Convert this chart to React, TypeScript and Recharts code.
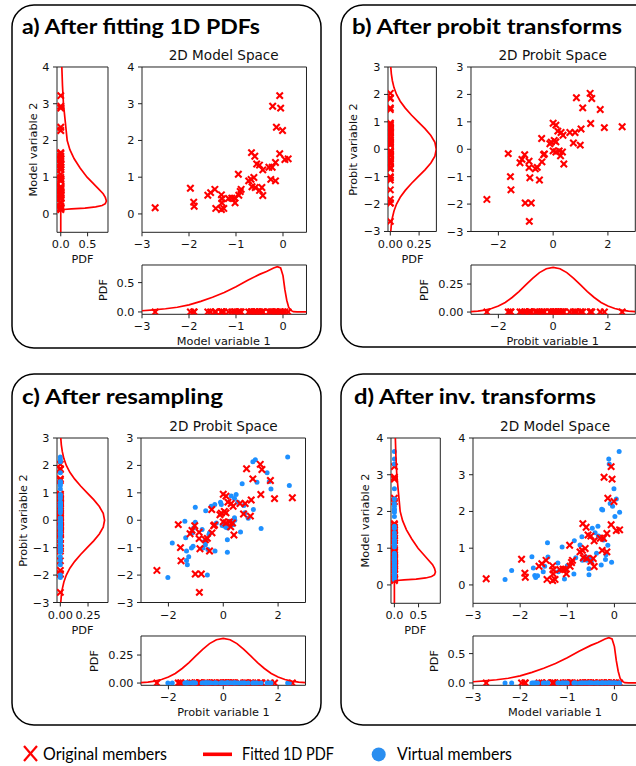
import React from 'react';
import { ScatterChart, Scatter, XAxis, YAxis, ReferenceArea } from 'recharts';

const RED = '#ff0000';
const BLUE = '#1e90ff';
const FONT = '"DejaVu Sans", Verdana, sans-serif';
const TFONT = 'Lato, "Open Sans", sans-serif';

// ---------- Original members, model space (panel a / d) ----------
const origModelV1 = [-2.72, -1.97, -1.9, -1.89, -1.6, -1.54, -1.45, -1.43, -1.31, -1.3, -1.3, -1.31, -1.26, -1.16, -1.09, -1.02, -1.03, -0.94, -0.89, -0.91, -0.95, -0.73, -0.68, -0.62, -0.66, -0.59, -0.67, -0.6, -0.56, -0.5, -0.43, -0.5, -0.45, -0.43, -0.3, -0.23, -0.26, -0.16, -0.16, -0.22, -0.14, -0.07, -0.05, -0.01, -0.07, 0.04, 0.11];
const origModelV2 = [0.17, 0.7, 0.32, 0.21, 0.51, 0.58, 0.67, 0.15, 0.52, 0.41, 0.3, 0.12, 0.15, 0.42, 0.43, 0.3, 0.43, 0.51, 0.67, 0.61, 1.08, 0.9, 0.94, 0.99, 0.74, 0.72, 1.67, 1.57, 1.36, 1.33, 1.2, 0.64, 0.72, 0.5, 1.27, 1.27, 0.94, 0.9, 1.4, 2.93, 2.36, 3.22, 2.88, 2.27, 1.64, 1.48, 1.5];

// ---------- Original members, probit space (panel b / c) ----------
const origProbitV1 = [-2.42, -1.64, -1.56, -1.54, -1.21, -1.14, -1.04, -0.88, -0.88, -0.85, -1.02, -0.8, -0.87, -0.65, -0.58, -0.5, -0.41, -0.35, -0.32, -0.42, -0.12, -0.07, 0.0, 0.1, 0.04, 0.1, 0.0, 0.1, 0.22, 0.34, 0.27, 0.17, 0.29, 0.36, 0.39, 0.61, 0.8, 1.02, 0.74, 0.99, 0.85, 1.08, 1.35, 1.41, 1.37, 1.72, 1.87, 2.52];
const origProbitV2 = [-1.83, -0.16, -1.0, -1.48, -0.49, -0.37, -0.2, -0.44, -0.67, -1.04, -1.96, -1.96, -2.63, -0.71, -0.66, -1.12, -0.46, -0.2, -0.17, 0.39, 0.2, 0.26, 0.95, 0.88, 0.32, 0.27, -0.06, -0.1, -0.06, -0.1, -0.24, 0.66, 0.61, 0.51, -0.54, 0.61, 0.61, 0.74, 0.23, 0.15, 1.88, 1.51, 2.04, 1.85, 0.94, 1.45, 0.79, 0.82];

// ---------- Virtual members, probit space (panel c) ----------
const virtProbitV1 = [-2.02, -1.86, -1.4, -1.37, -1.34, -1.34, -1.31, -1.26, -1.16, -1.1, -1.12, -1.08, -1.02, -1.02, -0.77, -0.74, -0.68, -0.65, -0.62, -0.58, -0.56, -0.52, -0.64, -0.5, -0.44, -0.31, -0.3, -0.25, -0.1, -0.07, -0.04, -0.01, 0.05, 0.11, 0.17, 0.19, 0.15, 0.15, 0.29, 0.41, 0.47, 0.41, 0.42, 0.53, 0.63, 0.69, 0.75, 0.79, 0.91, 1.1, 1.08, 1.17, 1.23, 1.38, 1.6, 1.68, 1.74, 2.35, 2.41, 0.25, 0.35];
const virtProbitV2 = [-2.09, -0.83, -0.04, -0.64, -1.12, -1.47, -1.62, -1.33, -1.01, -0.95, -0.46, -0.28, -0.07, 0.47, -0.34, -1.01, -0.77, -0.89, -0.71, -2.0, -1.07, -0.52, 0.35, -0.46, 0.51, 0.57, -1.12, -0.1, 0.66, 0.57, -0.19, -0.16, -0.22, -0.26, -0.28, -0.22, -0.71, -1.17, 0.88, 0.79, 0.94, 0.09, 0.0, 0.66, -0.43, 1.33, 0.54, 0.27, 0.07, 0.39, 2.13, 2.21, 1.39, -0.3, 1.73, 1.41, 1.14, 2.31, 1.27, -0.04, -0.16];

// ---------- Virtual members, model space (panel d) ----------
const virtModelV1 = [-2.32, -2.18, -1.75, -1.72, -1.69, -1.67, -1.63, -1.51, -1.48, -1.42, -1.41, -1.2, -1.19, -1.11, -1.1, -1.06, -1.03, -1.0, -0.86, -0.85, -0.82, -0.73, -0.69, -0.68, -0.64, -0.61, -0.58, -0.54, -0.54, -0.52, -0.49, -0.47, -0.41, -0.35, -0.38, -0.34, -0.28, -0.27, -0.25, -0.23, -0.18, -0.14, -0.12, -0.11, -0.09, -0.06, -0.01, 0.01, 0.04, 0.1, 0.11, -0.04, -0.19];
const virtModelV2 = [0.15, 0.39, 0.77, 0.46, 0.26, 0.2, 0.25, 0.36, 0.51, 1.15, 0.76, 0.6, 0.36, 1.03, 0.45, 0.16, 0.41, 0.52, 0.3, 1.2, 0.74, 1.09, 1.31, 0.67, 0.69, 0.77, 0.67, 0.44, 0.28, 0.72, 0.63, 1.54, 1.42, 1.6, 0.86, 1.33, 0.54, 2.06, 2.04, 1.22, 0.82, 1.08, 3.43, 3.29, 2.22, 0.62, 2.62, 1.86, 2.34, 3.63, 1.98, 2.14, 0.69];

// ---------- Fitted 1D PDFs ----------
const modelPdf1X = [-3, -2.75, -2.5, -2.25, -2, -1.75, -1.5, -1.25, -1, -0.75, -0.5, -0.35, -0.2, -0.12, -0.05, 0, 0.04, 0.08, 0.12, 0.16, 0.22, 0.3, 0.5];
const modelPdf1Y = [0.02, 0.035, 0.055, 0.08, 0.12, 0.18, 0.25, 0.33, 0.43, 0.54, 0.64, 0.69, 0.75, 0.77, 0.75, 0.62, 0.38, 0.2, 0.08, 0.03, 0.005, 0, 0];
const modelPdf2V = [-0.5, 0.08, 0.1, 0.12, 0.14, 0.16, 0.19, 0.23, 0.28, 0.35, 0.45, 0.55, 0.7, 0.85, 1.0, 1.25, 1.5, 1.75, 2.0, 2.5, 3.0, 3.5, 4.0];
const modelPdf2P = [0, 0, 0.01, 0.05, 0.2, 0.45, 0.65, 0.77, 0.83, 0.85, 0.83, 0.79, 0.69, 0.59, 0.49, 0.36, 0.25, 0.17, 0.12, 0.085, 0.05, 0.032, 0.02];
const probitPdfV = [-3, -2.75, -2.5, -2.25, -2, -1.75, -1.5, -1.25, -1, -0.75, -0.5, -0.25, 0, 0.25, 0.5, 0.75, 1, 1.25, 1.5, 1.75, 2, 2.25, 2.5, 2.75, 3];
const probitPdfP = [0.004, 0.009, 0.018, 0.032, 0.054, 0.086, 0.13, 0.183, 0.242, 0.301, 0.352, 0.387, 0.399, 0.387, 0.352, 0.301, 0.242, 0.183, 0.13, 0.086, 0.054, 0.032, 0.018, 0.009, 0.004];

// ---------- Tick labels ----------
const modelTicks1 = [-3, -2, -1, 0];
const modelTicks2 = [0, 1, 2, 3, 4];
const probitTicksX = [-2, 0, 2];
const probitTicksY = [-3, -2, -1, 0, 1, 2, 3];
const modelPdfTicks = [0, 0.5];
const probitPdfTicks = [0, 0.25];

type Pt = { x: number; y: number };
type Layer = { data: Pt[]; kind: 'x' | 'dot' | 'line' };

const zip = (xs: number[], ys: number[]): Pt[] => xs.map((x, i) => ({ x, y: ys[i] }));
const onXAxis = (xs: number[]): Pt[] => xs.map((x) => ({ x, y: 0 }));
const onYAxis = (ys: number[]): Pt[] => ys.map((y) => ({ x: 0, y }));

const fmt = (d: number) => (v: number) => (d > 0 ? v.toFixed(d) : String(v)).replace('-', '\u2212');

const XMark = (p: any) => {
  const { cx, cy } = p;
  if (cx == null || cy == null) return <g />;
  const s = 3.2;
  return (
    <g>
      <line x1={cx - s} y1={cy - s} x2={cx + s} y2={cy + s} stroke={RED} strokeWidth={2.1} />
      <line x1={cx - s} y1={cy + s} x2={cx + s} y2={cy - s} stroke={RED} strokeWidth={2.1} />
    </g>
  );
};
const Dot = (p: any) => {
  const { cx, cy } = p;
  if (cx == null || cy == null) return <g />;
  return <circle cx={cx} cy={cy} r={2.5} fill={BLUE} />;
};
const NoShape = () => <g />;

type PlotProps = {
  rect: [number, number, number, number];
  xDomain: [number, number];
  yDomain: [number, number];
  xTicks: number[];
  yTicks: number[];
  xDec?: number;
  yDec?: number;
  layers: Layer[];
};

function Plot({ rect, xDomain, yDomain, xTicks, yTicks, xDec = 0, yDec = 0, layers }: PlotProps) {
  const [px, py, pw, ph] = rect;
  const padL = 40;
  const padR = 6;
  const padT = 6;
  const padB = 24;
  const tickStyle = { fontSize: 11.3, fill: '#111', fontFamily: FONT };
  return (
    <div style={{ position: 'absolute', left: px - padL, top: py - padT }}>
      <ScatterChart
        width={padL + pw + padR}
        height={padT + ph + padB}
        margin={{ top: padT, right: padR, bottom: 0, left: 0 }}
      >
        <XAxis
          type="number"
          dataKey="x"
          domain={xDomain}
          ticks={xTicks}
          allowDataOverflow
          interval={0}
          height={padB}
          axisLine={false}
          tickSize={4}
          tickMargin={4}
          tickLine={{ stroke: '#222', strokeWidth: 1 }}
          tick={tickStyle}
          tickFormatter={fmt(xDec)}
        />
        <YAxis
          type="number"
          dataKey="y"
          domain={yDomain}
          ticks={yTicks}
          allowDataOverflow
          interval={0}
          width={padL}
          axisLine={false}
          tickSize={4}
          tickMargin={3.5}
          tickLine={{ stroke: '#222', strokeWidth: 1 }}
          tick={tickStyle}
          tickFormatter={fmt(yDec)}
        />
        <ReferenceArea
          x1={xDomain[0]}
          x2={xDomain[1]}
          y1={yDomain[0]}
          y2={yDomain[1]}
          fill="none"
          fillOpacity={0}
          stroke="#222"
          strokeWidth={1}
          ifOverflow="visible"
        />
        {layers.map((l, i) => (
          <Scatter
            key={i}
            data={l.data}
            isAnimationActive={false}
            shape={l.kind === 'x' ? XMark : l.kind === 'dot' ? Dot : NoShape}
            line={l.kind === 'line' ? { stroke: RED, strokeWidth: 1.7 } : false}
            lineType="joint"
          />
        ))}
      </ScatterChart>
    </div>
  );
}

const origModel = zip(origModelV1, origModelV2);
const origProbit = zip(origProbitV1, origProbitV2);
const virtProbit = zip(virtProbitV1, virtProbitV2);
const virtModel = zip(virtModelV1, virtModelV2);
const modelPdf1 = zip(modelPdf1X, modelPdf1Y);
const modelPdf2 = zip(modelPdf2P, modelPdf2V);
const probitPdf1 = zip(probitPdfV, probitPdfP);
const probitPdf2 = zip(probitPdfP, probitPdfV);

const labelStyle = { fontFamily: FONT, fontSize: 11.3, fill: '#111' } as const;
const subTitleStyle = { fontFamily: FONT, fontSize: 13.6, fill: '#111' } as const;
const panelTitleStyle = { fontFamily: TFONT, fontSize: 20.5, fontWeight: 700, fill: '#000' } as const;
const legendStyle = { fontFamily: TFONT, fontSize: 17.5, fill: '#000' } as const;

function VText({ x, y, children }: { x: number; y: number; children: React.ReactNode }) {
  return (
    <text transform={`translate(${x},${y}) rotate(-90)`} textAnchor="middle" style={labelStyle}>
      {children}
    </text>
  );
}

function FitText({ x, y, w, style, children }: { x: number; y: number; w: number; style: any; children: React.ReactNode }) {
  return (
    <text x={x} y={y} textLength={w} lengthAdjust="spacingAndGlyphs" style={style}>
      {children}
    </text>
  );
}

export default function App() {
  const R2 = 371; // vertical offset of the second row
  return (
    <div style={{ position: 'absolute', left: 0, top: 0, width: 636, height: 766, background: '#fff', overflow: 'hidden' }}>
      <svg width={636} height={766} style={{ position: 'absolute', left: 0, top: 0 }}>
        <rect x={12} y={5} width={309} height={343} rx={22} ry={22} fill="none" stroke="#000" strokeWidth={1.5} />
        <rect x={341} y={5} width={330} height={342} rx={22} ry={22} fill="none" stroke="#000" strokeWidth={1.5} />
        <rect x={12} y={374} width={309} height={351} rx={22} ry={22} fill="none" stroke="#000" strokeWidth={1.5} />
        <rect x={341} y={374} width={330} height={351} rx={22} ry={22} fill="none" stroke="#000" strokeWidth={1.5} />

        <FitText x={22} y={34} w={238} style={panelTitleStyle}>a) After fitting 1D PDFs</FitText>
        <FitText x={352} y={34} w={270} style={panelTitleStyle}>b) After probit transforms</FitText>
        <FitText x={22} y={404} w={201} style={panelTitleStyle}>c) After resampling</FitText>
        <FitText x={354} y={404} w={242} style={panelTitleStyle}>d) After inv. transforms</FitText>

        <text x={223.7} y={60} textAnchor="middle" style={subTitleStyle}>2D Model Space</text>
        <text x={552.7} y={60} textAnchor="middle" style={subTitleStyle}>2D Probit Space</text>
        <text x={223.5} y={430.5} textAnchor="middle" style={subTitleStyle}>2D Probit Space</text>
        <text x={555} y={430.5} textAnchor="middle" style={subTitleStyle}>2D Model Space</text>

        <text x={82.5} y={263} textAnchor="middle" style={labelStyle}>PDF</text>
        <text x={412.5} y={263} textAnchor="middle" style={labelStyle}>PDF</text>
        <text x={82.5} y={263 + R2} textAnchor="middle" style={labelStyle}>PDF</text>
        <text x={415.3} y={263 + R2} textAnchor="middle" style={labelStyle}>PDF</text>

        <text x={223.7} y={345} textAnchor="middle" style={labelStyle}>Model variable 1</text>
        <text x={552.7} y={345} textAnchor="middle" style={labelStyle}>Probit variable 1</text>
        <text x={223.5} y={345 + R2} textAnchor="middle" style={labelStyle}>Probit variable 1</text>
        <text x={555} y={345 + R2} textAnchor="middle" style={labelStyle}>Model variable 1</text>

        <VText x={36.5} y={149.5}>Model variable 2</VText>
        <VText x={356.5} y={149.5}>Probit variable 2</VText>
        <VText x={26.5} y={149.5 + R2}>Probit variable 2</VText>
        <VText x={369} y={149.5 + R2}>Model variable 2</VText>

        <VText x={106.5} y={290}>PDF</VText>
        <VText x={428} y={290}>PDF</VText>
        <VText x={98} y={290 + R2}>PDF</VText>
        <VText x={438} y={290 + R2}>PDF</VText>

        {/* legend */}
        <line x1={24} y1={746} x2={37} y2={761} stroke={RED} strokeWidth={2.2} />
        <line x1={24} y1={761} x2={37} y2={746} stroke={RED} strokeWidth={2.2} />
        <FitText x={43} y={760} w={124} style={legendStyle}>Original members</FitText>
        <line x1={203} y1={754.3} x2={232} y2={754.3} stroke={RED} strokeWidth={3.6} />
        <FitText x={242} y={760} w={92} style={legendStyle}>Fitted 1D PDF</FitText>
        <circle cx={378.7} cy={754.4} r={7} fill="#2a8ef0" />
        <FitText x={397} y={760} w={115} style={legendStyle}>Virtual members</FitText>
      </svg>

      {/* Panel a */}
      <Plot rect={[57, 66.7, 51, 165.3]} xDomain={[-0.07, 0.88]} yDomain={[-0.5, 4]} xTicks={modelPdfTicks} yTicks={modelTicks2} xDec={1}
        layers={[{ data: onYAxis(origModelV2), kind: 'x' }, { data: modelPdf2, kind: 'line' }]} />
      <Plot rect={[141.5, 66.7, 164.5, 165.3]} xDomain={[-3, 0.5]} yDomain={[-0.5, 4]} xTicks={modelTicks1} yTicks={modelTicks2}
        layers={[{ data: origModel, kind: 'x' }]} />
      <Plot rect={[141.5, 265, 164.5, 49.3]} xDomain={[-3, 0.5]} yDomain={[-0.04, 0.8]} xTicks={modelTicks1} yTicks={modelPdfTicks} yDec={1}
        layers={[{ data: onXAxis(origModelV1), kind: 'x' }, { data: modelPdf1, kind: 'line' }]} />

      {/* Panel b */}
      <Plot rect={[388.3, 66.7, 48.4, 164.5]} xDomain={[-0.02, 0.4]} yDomain={[-3, 3]} xTicks={probitPdfTicks} yTicks={probitTicksY} xDec={2}
        layers={[{ data: onYAxis(origProbitV2), kind: 'x' }, { data: probitPdf2, kind: 'line' }]} />
      <Plot rect={[470.7, 66.7, 164.3, 164.5]} xDomain={[-3, 3]} yDomain={[-3, 3]} xTicks={probitTicksX} yTicks={probitTicksY}
        layers={[{ data: origProbit, kind: 'x' }]} />
      <Plot rect={[470.7, 265, 164.3, 49.3]} xDomain={[-3, 3]} yDomain={[-0.02, 0.42]} xTicks={probitTicksX} yTicks={probitPdfTicks} yDec={2}
        layers={[{ data: onXAxis(origProbitV1), kind: 'x' }, { data: probitPdf1, kind: 'line' }]} />

      {/* Panel c */}
      <Plot rect={[57, 66.7 + R2, 51, 164.5]} xDomain={[-0.03, 0.43]} yDomain={[-3, 3]} xTicks={probitPdfTicks} yTicks={probitTicksY} xDec={2}
        layers={[{ data: onYAxis(origProbitV2), kind: 'x' }, { data: onYAxis(virtProbitV2), kind: 'dot' }, { data: probitPdf2, kind: 'line' }]} />
      <Plot rect={[141, 66.7 + R2, 164.5, 164.5]} xDomain={[-3, 3]} yDomain={[-3, 3]} xTicks={probitTicksX} yTicks={probitTicksY}
        layers={[{ data: virtProbit, kind: 'dot' }, { data: origProbit, kind: 'x' }]} />
      <Plot rect={[141, 265 + R2, 164.5, 49.3]} xDomain={[-3, 3]} yDomain={[-0.02, 0.42]} xTicks={probitTicksX} yTicks={probitPdfTicks} yDec={2}
        layers={[{ data: onXAxis(origProbitV1), kind: 'x' }, { data: onXAxis(virtProbitV1), kind: 'dot' }, { data: probitPdf1, kind: 'line' }]} />

      {/* Panel d */}
      <Plot rect={[390.7, 66.7 + R2, 49.3, 165.3]} xDomain={[-0.07, 0.95]} yDomain={[-0.5, 4]} xTicks={modelPdfTicks} yTicks={modelTicks2} xDec={1}
        layers={[{ data: onYAxis(origModelV2), kind: 'x' }, { data: onYAxis(virtModelV2), kind: 'dot' }, { data: modelPdf2, kind: 'line' }]} />
      <Plot rect={[472.5, 66.7 + R2, 165, 165.3]} xDomain={[-3, 0.5]} yDomain={[-0.5, 4]} xTicks={modelTicks1} yTicks={modelTicks2}
        layers={[{ data: virtModel, kind: 'dot' }, { data: origModel, kind: 'x' }]} />
      <Plot rect={[472.5, 265 + R2, 165, 49.3]} xDomain={[-3, 0.5]} yDomain={[-0.04, 0.8]} xTicks={modelTicks1} yTicks={modelPdfTicks} yDec={1}
        layers={[{ data: onXAxis(origModelV1), kind: 'x' }, { data: onXAxis(virtModelV1), kind: 'dot' }, { data: modelPdf1, kind: 'line' }]} />
    </div>
  );
}
